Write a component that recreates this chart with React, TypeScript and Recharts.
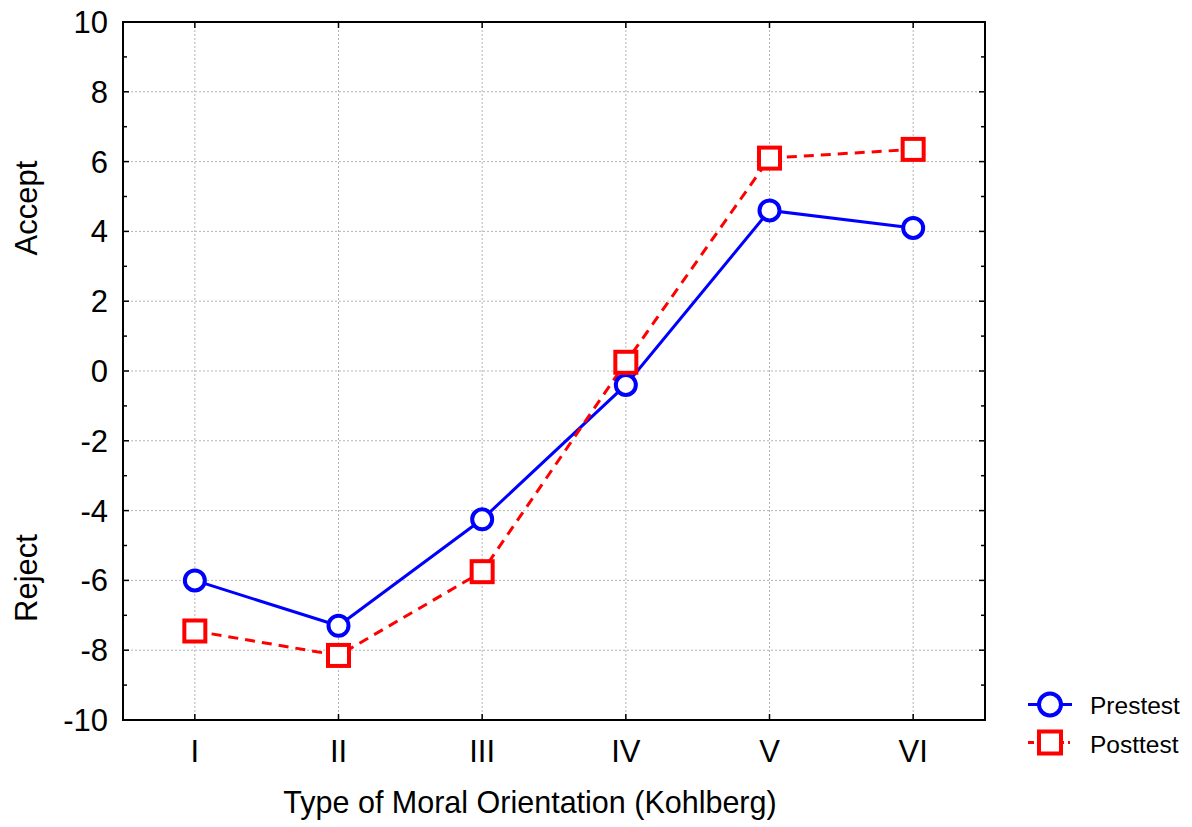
import React from 'react';
import {
    LineChart,
    Line,
    XAxis,
    YAxis,
    CartesianGrid,
    ReferenceLine,
    ReferenceArea,
    Legend,
    Label,
} from 'recharts';

const categories = ['I', 'II', 'III', 'IV', 'V', 'VI'];
const prestest = [-6.0, -7.3, -4.25, -0.4, 4.6, 4.1];
const posttest = [-7.45, -8.15, -5.75, 0.25, 6.1, 6.35];
const yTicks = [-10, -9, -8, -7, -6, -5, -4, -3, -2, -1, 0, 1, 2, 3, 4, 5, 6, 7, 8, 9, 10];
const gridValues = [-8, -6, -4, -2, 0, 2, 4, 6, 8];

const data = categories.map((name, i) => ({
    name,
    prestest: prestest[i],
    posttest: posttest[i],
}));

const FONT = '"Liberation Sans", Arial, Helvetica, sans-serif';
const BLUE = '#0000ff';
const RED = '#ff0000';
const GRID = '#b4b4b4';
const PLOT = { left: 123, right: 985, top: 22, bottom: 720 };

const YTick = (props: any) => {
    const { y, payload } = props;
    const major = payload.value % 2 === 0;
    const len = major ? 6 : 4;
    return (
        <g>
            <line x1={PLOT.left} x2={PLOT.left + len} y1={y} y2={y} stroke="#000" strokeWidth={1.5} />
            <line x1={PLOT.right - len} x2={PLOT.right} y1={y} y2={y} stroke="#000" strokeWidth={1.5} />
            {major && (
                <text x={108} y={y} dy={11} textAnchor="end" fontSize={31} fontFamily={FONT} fill="#000">
                    {payload.value}
                </text>
            )}
        </g>
    );
};

const XTick = (props: any) => {
    const { x, payload } = props;
    return (
        <g>
            <line x1={x} x2={x} y1={PLOT.bottom} y2={PLOT.bottom - 6} stroke="#000" strokeWidth={1.5} />
            <line x1={x} x2={x} y1={PLOT.top} y2={PLOT.top + 6} stroke="#000" strokeWidth={1.5} />
            <text x={x} y={762} textAnchor="middle" fontSize={31} fontFamily={FONT} fill="#000">
                {payload.value}
            </text>
        </g>
    );
};

const SquareDot = (props: any) => {
    const { cx, cy, index } = props;
    if (cx == null || cy == null) return <g key={`sq-${index}`} />;
    return (
        <rect
            key={`sq-${index}`}
            x={cx - 10.5}
            y={cy - 10.5}
            width={21}
            height={21}
            fill="#fff"
            stroke={RED}
            strokeWidth={4}
        />
    );
};

const LegendContent = () => (
    <svg width={175} height={80} style={{ fontFamily: FONT }}>
        <line x1={8} x2={52} y1={19.5} y2={19.5} stroke={BLUE} strokeWidth={3} />
        <circle cx={30} cy={19.5} r={11} fill="#fff" stroke={BLUE} strokeWidth={4} />
        <text x={70} y={29} fontSize={24.5} fill="#000">Prestest</text>
        <line x1={8} x2={50} y1={57.5} y2={57.5} stroke={RED} strokeWidth={3} strokeDasharray="6 4" />
        <rect x={19} y={46.5} width={22} height={22} fill="#fff" stroke={RED} strokeWidth={4} />
        <text x={70} y={68} fontSize={24.5} fill="#000">Posttest</text>
    </svg>
);

export default function App() {
    return (
        <div style={{ position: 'absolute', left: 0, top: 0, background: '#fff' }}>
            <LineChart
                width={1192}
                height={827}
                data={data}
                margin={{ top: 22, right: 207, bottom: 0, left: 0 }}
            >
                <CartesianGrid horizontal={false} stroke={GRID} strokeDasharray="2 2" />
                {gridValues.map((v) => (
                    <ReferenceLine key={v} y={v} stroke={GRID} strokeDasharray="2 2" />
                ))}
                <ReferenceArea y1={-10} y2={10} fill="none" stroke="#000" strokeWidth={2} ifOverflow="visible" />
                <XAxis
                    dataKey="name"
                    scale="band"
                    height={107}
                    interval={0}
                    axisLine={false}
                    tickLine={false}
                    tick={<XTick />}
                >
                    <Label
                        content={() => (
                            <text x={530} y={813} textAnchor="middle" fontSize={30.5} fontFamily={FONT} fill="#000">
                                Type of Moral Orientation (Kohlberg)
                            </text>
                        )}
                    />
                </XAxis>
                <YAxis
                    type="number"
                    width={123}
                    domain={[-10, 10]}
                    ticks={yTicks}
                    interval={0}
                    allowDataOverflow
                    axisLine={false}
                    tickLine={false}
                    tick={<YTick />}
                >
                    <Label
                        content={() => (
                            <g>
                                <text
                                    transform="translate(37,208) rotate(-90)"
                                    textAnchor="middle"
                                    fontSize={31}
                                    fontFamily={FONT}
                                    fill="#000"
                                >
                                    Accept
                                </text>
                                <text
                                    transform="translate(37,578) rotate(-90)"
                                    textAnchor="middle"
                                    fontSize={31}
                                    fontFamily={FONT}
                                    fill="#000"
                                >
                                    Reject
                                </text>
                            </g>
                        )}
                    />
                </YAxis>
                <Legend
                    layout="horizontal"
                    verticalAlign="middle"
                    align="center"
                    content={<LegendContent />}
                    wrapperStyle={{ left: 1020, top: 685, width: 175, height: 80 }}
                />
                <Line
                    dataKey="prestest"
                    name="Prestest"
                    stroke={BLUE}
                    strokeWidth={3}
                    dot={{ r: 10, stroke: BLUE, strokeWidth: 4, fill: '#fff' }}
                    isAnimationActive={false}
                />
                <Line
                    dataKey="posttest"
                    name="Posttest"
                    stroke={RED}
                    strokeWidth={3}
                    strokeDasharray="10 7"
                    dot={<SquareDot />}
                    isAnimationActive={false}
                />
            </LineChart>
        </div>
    );
}
